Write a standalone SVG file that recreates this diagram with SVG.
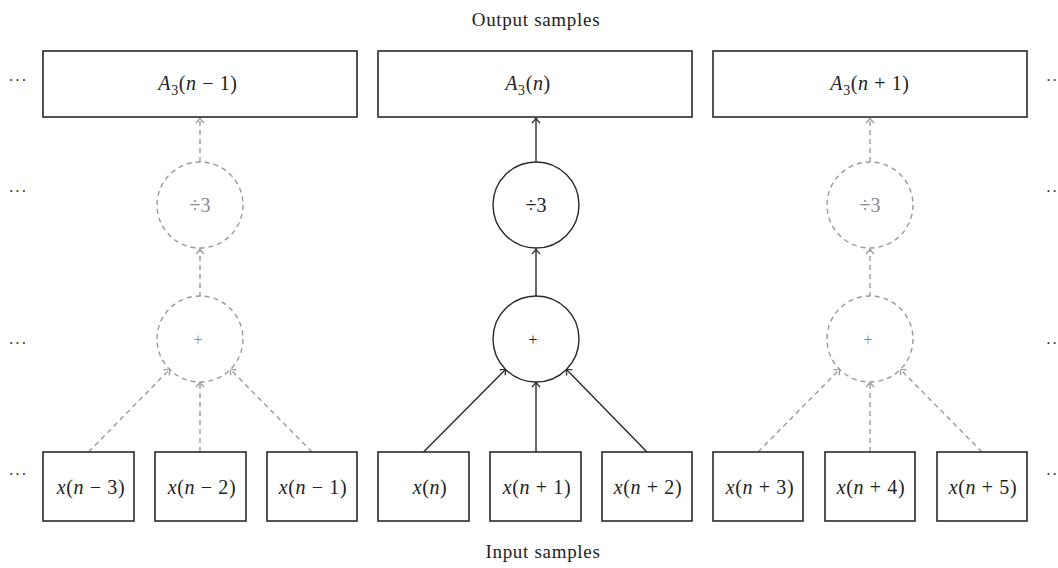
<svg xmlns="http://www.w3.org/2000/svg" width="1058" height="568" viewBox="0 0 1058 568">
<style>
.box{fill:#fff;stroke:#2a2a2a;stroke-width:1.6}
.c{fill:#fff;stroke:#2a2a2a;stroke-width:1.4}
.cg{fill:#fff;stroke:#9a9a9a;stroke-width:1.4;stroke-dasharray:5 4}
.ln{stroke:#2a2a2a;stroke-width:1.4;fill:none;marker-end:url(#ab)}
.lg{stroke:#9a9a9a;stroke-width:1.4;fill:none;stroke-dasharray:5 4;marker-end:url(#ag)}
.t{font-family:"Liberation Serif",serif;font-size:19px;fill:#222;text-anchor:middle;letter-spacing:0.7px}
.m{font-family:"Liberation Serif",serif;font-size:20px;fill:#222;text-anchor:middle;letter-spacing:0.6px}
.op{font-family:"Liberation Serif",serif;font-size:20px;fill:#222;text-anchor:middle}
.pl{font-family:"Liberation Serif",serif;font-size:16px;fill:#222;text-anchor:middle}
.g{fill:#8a8a8a}
.i{font-style:italic}
.sub{font-size:14px}
.d{font-family:"Liberation Serif",serif;font-size:16px;fill:#333;text-anchor:middle;letter-spacing:1px}
</style>
<defs>
<marker id="ab" markerUnits="userSpaceOnUse" markerWidth="12" markerHeight="12" refX="0" refY="0" viewBox="-8 -6 10 12" orient="auto">
<path d="M-5,-4 Q-2,-1 0,0 Q-2,1 -5,4" fill="none" stroke="#2a2a2a" stroke-width="1.3"/>
</marker>
<marker id="ag" markerUnits="userSpaceOnUse" markerWidth="12" markerHeight="12" refX="0" refY="0" viewBox="-8 -6 10 12" orient="auto">
<path d="M-5,-4 Q-2,-1 0,0 Q-2,1 -5,4" fill="none" stroke="#9a9a9a" stroke-width="1.3"/>
</marker>
</defs>
<rect width="1058" height="568" fill="#fff"/>

<text class="t" x="536" y="26">Output samples</text>
<text class="t" x="543" y="558">Input samples</text>

<g id="dots">
<text class="d" x="18" y="86">···</text>
<text class="d" x="18" y="197">···</text>
<text class="d" x="18" y="349">···</text>
<text class="d" x="18" y="480">···</text>
<text class="d" x="1052" y="86">··</text>
<text class="d" x="1052" y="197">··</text>
<text class="d" x="1052" y="349">··</text>
<text class="d" x="1052" y="480">··</text>
</g>

<g id="connectors">
<line class="lg" x1="88.5" y1="452" x2="170" y2="369"/>
<line class="lg" x1="200" y1="452" x2="200" y2="382"/>
<line class="lg" x1="312" y1="452" x2="230" y2="369"/>
<line class="lg" x1="200" y1="297" x2="200" y2="249"/>
<line class="lg" x1="200" y1="162" x2="200" y2="118"/>
<line class="ln" x1="423.5" y1="452" x2="506" y2="369"/>
<line class="ln" x1="536" y1="452" x2="536" y2="382"/>
<line class="ln" x1="647" y1="452" x2="566" y2="369"/>
<line class="ln" x1="536" y1="297" x2="536" y2="249"/>
<line class="ln" x1="536" y1="162" x2="536" y2="118"/>
<line class="lg" x1="758" y1="452" x2="840" y2="369"/>
<line class="lg" x1="870" y1="452" x2="870" y2="382"/>
<line class="lg" x1="982" y1="452" x2="900" y2="369"/>
<line class="lg" x1="870" y1="297" x2="870" y2="249"/>
<line class="lg" x1="870" y1="162" x2="870" y2="118"/>
</g>

<g id="out-n-1"><rect class="box" x="43" y="51" width="314" height="66"/>
<text class="m" x="198" y="90"><tspan class="i">A</tspan><tspan dy="5" class="sub">3</tspan><tspan dy="-5">(</tspan><tspan class="i">n</tspan> − 1)</text></g>
<g id="out-n"><rect class="box" x="378" y="51" width="314" height="66"/>
<text class="m" x="528" y="90"><tspan class="i">A</tspan><tspan dy="5" class="sub">3</tspan><tspan dy="-5">(</tspan><tspan class="i">n</tspan>)</text></g>
<g id="out-n1"><rect class="box" x="713" y="51" width="314" height="66"/>
<text class="m" x="870" y="90"><tspan class="i">A</tspan><tspan dy="5" class="sub">3</tspan><tspan dy="-5">(</tspan><tspan class="i">n</tspan> + 1)</text></g>

<g id="div-left"><circle class="cg" cx="200" cy="205" r="43"/><text class="op g" x="200" y="212">÷3</text></g>
<g id="div-mid"><circle class="c" cx="536" cy="205" r="43"/><text class="op" x="536" y="212">÷3</text></g>
<g id="div-right"><circle class="cg" cx="870" cy="205" r="43"/><text class="op g" x="870" y="212">÷3</text></g>

<g id="sum-left"><circle class="cg" cx="200" cy="339" r="43"/><text class="pl g" x="198" y="345">+</text></g>
<g id="sum-mid"><circle class="c" cx="536" cy="339" r="43"/><text class="pl" x="533" y="345">+</text></g>
<g id="sum-right"><circle class="cg" cx="870" cy="339" r="43"/><text class="pl g" x="868" y="345">+</text></g>

<g id="x-n-3"><rect class="box" x="43" y="452" width="91" height="69"/><text class="m" x="91" y="494"><tspan class="i">x</tspan>(<tspan class="i">n</tspan> − 3)</text></g>
<g id="x-n-2"><rect class="box" x="155" y="452" width="91" height="69"/><text class="m" x="202" y="494"><tspan class="i">x</tspan>(<tspan class="i">n</tspan> − 2)</text></g>
<g id="x-n-1"><rect class="box" x="267" y="452" width="90" height="69"/><text class="m" x="313" y="494"><tspan class="i">x</tspan>(<tspan class="i">n</tspan> − 1)</text></g>
<g id="x-n"><rect class="box" x="378" y="452" width="91" height="69"/><text class="m" x="430" y="494"><tspan class="i">x</tspan>(<tspan class="i">n</tspan>)</text></g>
<g id="x-n+1"><rect class="box" x="490" y="452" width="91" height="69"/><text class="m" x="537" y="494"><tspan class="i">x</tspan>(<tspan class="i">n</tspan> + 1)</text></g>
<g id="x-n+2"><rect class="box" x="602" y="452" width="90" height="69"/><text class="m" x="648" y="494"><tspan class="i">x</tspan>(<tspan class="i">n</tspan> + 2)</text></g>
<g id="x-n+3"><rect class="box" x="713" y="452" width="90" height="69"/><text class="m" x="760" y="494"><tspan class="i">x</tspan>(<tspan class="i">n</tspan> + 3)</text></g>
<g id="x-n+4"><rect class="box" x="825" y="452" width="90" height="69"/><text class="m" x="871" y="494"><tspan class="i">x</tspan>(<tspan class="i">n</tspan> + 4)</text></g>
<g id="x-n+5"><rect class="box" x="937" y="452" width="90" height="69"/><text class="m" x="983" y="494"><tspan class="i">x</tspan>(<tspan class="i">n</tspan> + 5)</text></g>
</svg>
